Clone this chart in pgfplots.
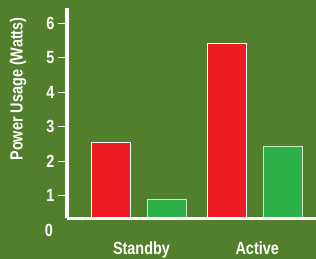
\documentclass[border=0pt]{standalone}
\usepackage{pgfplots}
\pgfplotsset{compat=1.18}
\usepackage{fontspec}
\setmainfont{Liberation Sans}
\newfontfamily\cond{Liberation Sans Bold}[FakeStretch=0.82]
\definecolor{bg}{RGB}{82,127,44}
\definecolor{barred}{RGB}{237,28,36}
\definecolor{bargreen}{RGB}{43,176,74}
\definecolor{greenedge}{RGB}{200,230,192}
\newcommand{\lblfont}{\cond\fontsize{17.6bp}{20bp}\selectfont}
\begin{document}
\begin{tikzpicture}
\fill[bg, use as bounding box] (-67bp,-41bp) rectangle (249bp,218bp);
\begin{axis}[
  at={(0,0)}, anchor=south west,
  scale only axis, width=249bp, height=210bp,
  xmin=-0.626, xmax=1.525,
  ymin=0.36, ymax=6.44,
  axis lines*=left,
  axis line style={white, line width=3bp},
  axis on top,
  ytick={1,2,3,4,5,6},
  xtick={0,1},
  xticklabels={Standby, Active},
  major tick length=9bp,
  tick align=outside,
  y tick style={white, line width=1.2bp},
  major x tick style={draw=none},
  ticklabel style={font=\lblfont, text=white},
  /pgf/number format/assume math mode=true,
  xticklabel style={anchor=base, yshift=-27bp, xshift=2bp},
]
\addplot[ybar, bar width=39bp, bar shift=-28bp, fill=barred, draw=white, line width=1bp]
  coordinates {(0,2.55) (1,5.42)};
\addplot[ybar, bar width=39bp, bar shift=28bp, fill=bargreen, draw=greenedge, line width=1bp]
  coordinates {(0,0.91) (1,2.42)};
\end{axis}
\node[anchor=east, inner sep=0pt, text=white, font=\lblfont] at (-14bp,-12.5bp) {0};
\node[rotate=90, anchor=base, inner sep=0pt, text=white, font=\lblfont] at (-44.3bp,129bp) {Power Usage (Watts)};
\end{tikzpicture}
\end{document}
